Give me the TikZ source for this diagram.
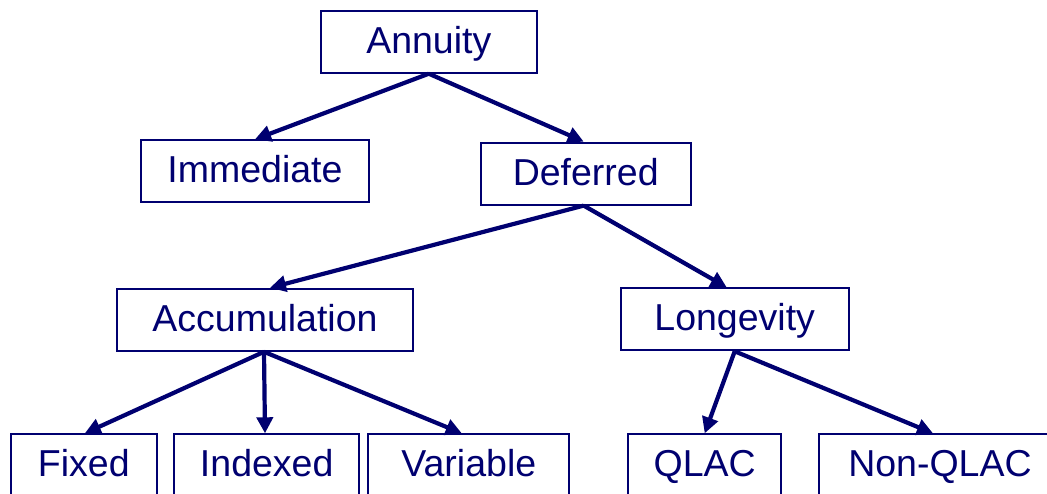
\documentclass[tikz,border=0pt]{standalone}
\usepackage{fontspec}
\setmainfont{Liberation Sans}
\usetikzlibrary{arrows.meta}
\definecolor{navy}{RGB}{0,0,112}
\begin{document}
\begin{tikzpicture}[x=1pt,y=-1pt,
  box/.style={draw=navy, line width=2pt, text=navy, minimum height=62pt, inner sep=0pt,
    text height=30pt, text depth=7pt,
    font=\fontsize{37.5}{45}\selectfont},
  arr/.style={draw=navy, line width=4.2pt, -{Triangle[length=16pt,width=16pt]}}]
\useasboundingbox (0,0) rectangle (1047,493);
\clip (0,0) rectangle (1047,493);
\node[box, minimum width=216pt] (annuity) at (428.8,41.7) {Annuity};
\node[box, minimum width=228.6pt] (immediate) at (255,171.3) {Immediate};
\node[box, minimum width=210pt] (deferred) at (585.7,173.6) {Deferred};
\node[box, minimum width=296.6pt] (accum) at (265,319.8) {Accumulation};
\node[box, minimum width=228pt] (longevity) at (734.7,319.3) {Longevity};
\node[box, minimum width=145.7pt] (fixed) at (83.8,465.3) {Fixed};
\node[box, minimum width=184.7pt] (indexed) at (266.7,465.3) {Indexed};
\node[box, minimum width=201pt] (variable) at (468.8,465.3) {Variable};
\node[box, minimum width=152.7pt] (qlac) at (704.7,465.3) {QLAC};
\node[box, minimum width=243pt] (nonqlac) at (940,465.3) {Non-QLAC};
\draw[arr] (annuity.south) -- (immediate.north);
\draw[arr] (annuity.south) -- ([xshift=-2pt]deferred.north);
\draw[arr] ([xshift=-2pt]deferred.south) -- ([xshift=5pt]accum.north);
\draw[arr] ([xshift=-2pt]deferred.south) -- ([xshift=-8pt]longevity.north);
\draw[arr] ([xshift=-1pt]accum.south) -- ([xshift=1pt]fixed.north);
\draw[arr] ([xshift=-1pt]accum.south) -- ([xshift=-1.7pt]indexed.north);
\draw[arr] ([xshift=-1pt]accum.south) -- ([xshift=-7pt]variable.north);
\draw[arr] (longevity.south) -- (qlac.north);
\draw[arr] (longevity.south) -- ([xshift=-7pt]nonqlac.north);
\end{tikzpicture}
\end{document}
